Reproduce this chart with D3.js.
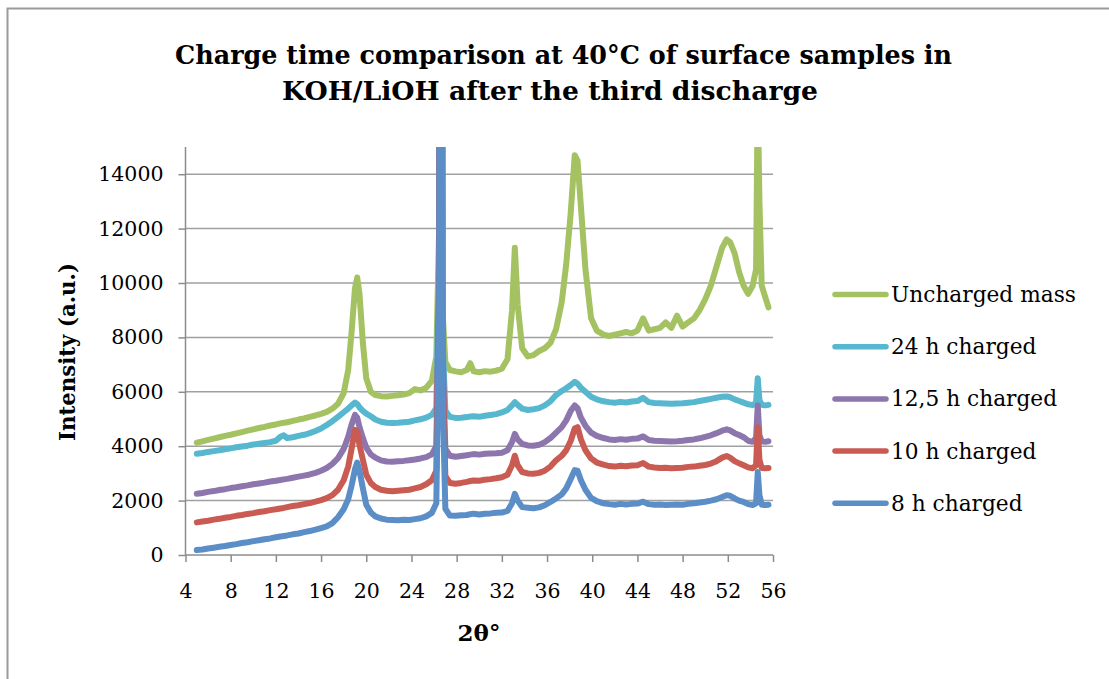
<!DOCTYPE html>
<html>
<head>
<meta charset="utf-8">
<script src="https://cdn.jsdelivr.net/npm/d3@7"></script>
<style>
  html, body { margin: 0; padding: 0; background: #fff; }
  svg { display: block; }
</style>
</head>
<body>
<svg id="chart" width="1109" height="679"></svg>
<script>
// 2θ positions (degrees) shared by every diffractogram
const twoTheta = [
  5.0, 5.5, 6.0, 6.5, 7.0, 7.5, 8.0, 8.5, 9.0, 9.5,
  10.0, 10.5, 11.0, 11.5, 12.0, 12.4, 12.7, 13.0, 13.5, 14.0,
  14.5, 15.0, 15.5, 16.0, 16.5, 17.0, 17.5, 18.0, 18.4, 18.7,
  19.0, 19.2, 19.4, 19.7, 20.0, 20.4, 20.8, 21.3, 21.8, 22.3,
  22.8, 23.3, 23.8, 24.3, 24.8, 25.3, 25.8, 26.2, 26.45, 26.55,
  26.65, 26.75, 27.0, 27.4, 27.9, 28.4, 28.9, 29.2, 29.5, 30.0,
  30.5, 31.0, 31.5, 32.0, 32.5, 32.9, 33.15, 33.4, 33.8, 34.3,
  34.8, 35.3, 35.8, 36.3, 36.8, 37.3, 37.7, 38.1, 38.45, 38.7,
  39.0, 39.4, 39.9, 40.4, 41.0, 41.5, 42.0, 42.5, 43.0, 43.5,
  44.0, 44.5, 45.0, 45.5, 46.0, 46.5, 47.0, 47.5, 48.0, 48.5,
  49.0, 49.5, 50.0, 50.5, 51.0, 51.5, 51.9, 52.2, 52.6, 53.0,
  53.4, 53.8, 54.2, 54.5, 54.65, 54.8, 55.0, 55.3, 55.6
];

// Intensity (a.u.) of each sample at the positions above
const unchargedMass = [
  4130, 4180, 4230, 4280, 4330, 4380, 4420, 4470, 4520, 4570,
  4620, 4670, 4710, 4760, 4800, 4840, 4860, 4880, 4930, 4980,
  5020, 5080, 5130, 5190, 5260, 5380, 5560, 5950, 6800, 8200,
  9800, 10200, 9600, 7800, 6500, 6000, 5880, 5840, 5830, 5850,
  5870, 5900, 5950, 6100, 6050, 6150, 6400, 7300, 12000, 40000,
  40000, 9000, 7100, 6800, 6750, 6720, 6800, 7050, 6750, 6720,
  6760, 6740, 6780, 6850, 7200, 9000, 11300, 9200, 7600, 7300,
  7350, 7500, 7600, 7800, 8300, 9300, 10700, 12600, 14700, 14500,
  12800, 10500, 8700, 8250, 8100, 8050, 8100, 8150, 8200, 8150,
  8250, 8700, 8250, 8300, 8350, 8550, 8350, 8800, 8400, 8550,
  8700, 9000, 9400, 9900, 10600, 11300, 11600, 11500, 11100, 10400,
  9900, 9600, 9900, 10500, 17000, 13000, 9900, 9500, 9100
];
const charged24h = [
  3720, 3750, 3790, 3820, 3850, 3890, 3920, 3960, 3990, 4020,
  4060, 4090, 4120, 4150, 4200, 4350, 4400, 4300, 4330, 4380,
  4420, 4480, 4560, 4650, 4780, 4920, 5080, 5250, 5380, 5500,
  5600, 5550, 5430, 5300, 5200, 5100, 4980, 4900, 4860, 4850,
  4860, 4880, 4900, 4950, 4990, 5050, 5150, 5400, 11000, 40000,
  40000, 8000, 5300, 5080, 5040, 5050, 5070, 5090, 5100, 5080,
  5120, 5150, 5180, 5240, 5330, 5500, 5620, 5520, 5380, 5330,
  5360, 5400, 5500, 5650, 5880, 6030, 6130, 6250, 6370, 6300,
  6150, 6000, 5820, 5720, 5650, 5620, 5600, 5630, 5610, 5640,
  5660, 5780, 5620, 5590, 5580, 5570, 5560, 5570, 5580, 5600,
  5620, 5660, 5700, 5740, 5780, 5820, 5830, 5800, 5720, 5660,
  5600, 5540, 5510, 5600, 6500, 5700, 5520, 5500, 5520
];
const charged12h5 = [
  2250, 2280, 2320, 2350, 2390, 2420, 2460, 2490, 2530, 2560,
  2600, 2630, 2660, 2700, 2730, 2760, 2780, 2800, 2840, 2880,
  2920, 2960, 3020, 3100, 3200, 3350, 3560, 3900, 4350, 4800,
  5150, 5050, 4700, 4300, 3950, 3700, 3580, 3480, 3440, 3430,
  3450, 3460, 3480, 3510, 3550, 3600, 3700, 4000, 10000, 40000,
  40000, 7500, 3900, 3650, 3610, 3640, 3670, 3690, 3710, 3690,
  3720, 3730, 3740, 3760, 3850, 4150, 4450, 4250, 4080, 4030,
  4020, 4050, 4150, 4300, 4500, 4700, 4950, 5300, 5500, 5400,
  5050, 4750, 4500, 4380, 4300, 4250, 4230, 4260, 4240, 4270,
  4280, 4360, 4230, 4200, 4190, 4180, 4170, 4180, 4200, 4230,
  4250, 4290, 4340, 4400, 4480, 4570, 4620, 4580, 4480, 4410,
  4330, 4200, 4160, 4300, 5500, 4400, 4180, 4160, 4180
];
const charged10h = [
  1200, 1230, 1260, 1300, 1330, 1370, 1400, 1440, 1470, 1510,
  1540, 1580, 1610, 1650, 1680, 1710, 1730, 1760, 1800, 1830,
  1870, 1910, 1960, 2020, 2090, 2200, 2400, 2750, 3250, 3900,
  4600, 4550, 4050, 3500, 2950, 2650, 2500, 2400, 2360, 2340,
  2360, 2380, 2400, 2450, 2500, 2600, 2750, 3100, 10000, 40000,
  40000, 7000, 2900, 2650, 2620, 2650, 2690, 2720, 2740, 2730,
  2770, 2790, 2820, 2860, 2950, 3300, 3650, 3300, 3050, 3000,
  2990, 3020, 3100, 3250, 3480, 3650, 3850, 4200, 4650, 4700,
  4250, 3850, 3550, 3400, 3320, 3270, 3250, 3280, 3260, 3290,
  3300, 3380, 3250, 3220, 3200, 3210, 3190, 3200, 3210, 3240,
  3250, 3280, 3310, 3360, 3450, 3580, 3640, 3580, 3450, 3370,
  3300, 3220, 3190, 3300, 4700, 3500, 3200, 3190, 3200
];
const charged8h = [
  180, 200, 240, 270, 300, 330, 370, 400, 440, 470,
  510, 540, 580, 610, 650, 680, 700, 720, 760, 790,
  840, 880, 930, 990, 1050, 1170, 1390, 1680, 2050, 2550,
  3150, 3400, 3100, 2450, 1850, 1560, 1420, 1340, 1300, 1290,
  1280, 1300, 1290, 1320, 1350, 1420, 1550, 1900, 9000, 40000,
  40000, 6000, 1700, 1450, 1440, 1460, 1470, 1500, 1520, 1490,
  1520, 1530, 1550, 1560, 1620, 1900, 2250, 2000, 1760, 1740,
  1720, 1750, 1830, 1950, 2080, 2230, 2450, 2800, 3120, 3100,
  2750, 2400, 2100, 1980, 1900, 1870, 1850, 1880, 1860, 1880,
  1890, 1960, 1870, 1850, 1860, 1840, 1850, 1860, 1850, 1880,
  1900, 1930, 1960, 2000, 2050, 2130, 2200, 2180, 2080, 2000,
  1950, 1870, 1840, 1900, 3050, 2200, 1850, 1840, 1850
];

const seriesNames = ["Uncharged mass", "24 h charged", "12,5 h charged", "10 h charged", "8 h charged"];
const seriesValues = [unchargedMass, charged24h, charged12h5, charged10h, charged8h];
const seriesColors = ["#a5c263", "#57b7cf", "#8d76ad", "#c95b52", "#5b8dc7"];

const xTicks = [4, 8, 12, 16, 20, 24, 28, 32, 36, 40, 44, 48, 52, 56];
const yTicks = [0, 2000, 4000, 6000, 8000, 10000, 12000, 14000];

const titleLines = ["Charge time comparison at 40°C of surface samples in", "KOH/LiOH after the third discharge"];
const xTitle = "2θ°";
const yTitle = "Intensity (a.u.)";

// ---- layout ----
const svg = d3.select("#chart");
const plot = { left: 185.5, right: 773, top: 147, bottom: 555 };
const serif = "'DejaVu Serif', 'Liberation Serif', serif";
const axisGrey = "#8c8c8c";

const x = d3.scaleLinear().domain([4, 56]).range([plot.left, plot.right]);
const y = d3.scaleLinear().domain([0, 15000]).range([plot.bottom, plot.top]);

// outer chart frame
svg.append("path")
  .attr("d", "M7.5,679 L7.5,8.5 L1109,8.5")
  .attr("fill", "none").attr("stroke", "#9a9a9a").attr("stroke-width", 2);

// scale font-size so a text node spans a given width
function fitWidth(node, target) {
  const w = node.getComputedTextLength();
  const fs = parseFloat(node.getAttribute("font-size"));
  return fs * target / w;
}

// title: two centred lines, slightly condensed
const titleSpec = [
  { text: titleLines[0], cx: 563.5, y: 64, width: 777 },
  { text: titleLines[1], cx: 550, y: 100, width: 536 }
];
svg.append("g").selectAll("text")
  .data(titleSpec)
  .join("text")
  .text(d => d.text)
  .attr("x", d => d.cx - d.width / 2).attr("y", d => d.y)
  .attr("textLength", d => d.width).attr("lengthAdjust", "spacingAndGlyphs")
  .attr("font-family", serif).attr("font-weight", "bold").attr("font-size", 25.5).attr("fill", "#000");

// horizontal gridlines
svg.append("g").selectAll("line")
  .data(yTicks.filter(d => d > 0))
  .join("line")
  .attr("x1", plot.left).attr("x2", plot.right)
  .attr("y1", d => y(d)).attr("y2", d => y(d))
  .attr("stroke", "#a0a0a0").attr("stroke-width", 1.5);

// axes
const yAxis = svg.append("g")
  .attr("transform", `translate(${plot.left},0)`)
  .call(d3.axisLeft(y).tickValues(yTicks).tickSize(7).tickSizeOuter(0).tickPadding(15)
    .tickFormat(d3.format("d")));
const xAxis = svg.append("g")
  .attr("transform", `translate(0,${plot.bottom})`)
  .call(d3.axisBottom(x).tickValues(xTicks).tickSize(7).tickSizeOuter(0).tickPadding(21)
    .tickFormat(d3.format("d")));
[yAxis, xAxis].forEach(g => {
  g.select(".domain").attr("stroke", axisGrey).attr("stroke-width", 1.5);
  g.selectAll(".tick line").attr("stroke", axisGrey).attr("stroke-width", 1.5);
  g.selectAll(".tick text").attr("font-family", serif).attr("font-size", 20.5).attr("fill", "#000");
});
yAxis.select(".domain").attr("d", `M0,${plot.bottom}V${plot.top}`);
xAxis.select(".domain").attr("d", `M${plot.left},0H${plot.right}`);

// axis titles
svg.append("text").text(yTitle)
  .attr("transform", "translate(67,352) rotate(-90)")
  .attr("text-anchor", "middle").attr("dominant-baseline", "central")
  .attr("textLength", 178).attr("lengthAdjust", "spacingAndGlyphs")
  .attr("font-family", serif).attr("font-weight", "bold").attr("font-size", 22).attr("fill", "#000");
svg.append("text").text(xTitle)
  .attr("x", 479).attr("y", 641)
  .attr("text-anchor", "middle")
  .attr("font-family", serif).attr("font-weight", "bold").attr("font-size", 23).attr("fill", "#000");

// diffractograms, clipped to the plot area
svg.append("clipPath").attr("id", "plotClip")
  .append("rect").attr("x", plot.left).attr("y", plot.top)
  .attr("width", plot.right - plot.left + 10).attr("height", plot.bottom - plot.top + 10);

const line = d3.line()
  .x((d, i) => x(twoTheta[i]))
  .y(d => y(d));

svg.append("g").attr("clip-path", "url(#plotClip)")
  .selectAll("path")
  .data(seriesValues)
  .join("path")
  .attr("d", d => line(d))
  .attr("fill", "none")
  .attr("stroke", (d, i) => seriesColors[i])
  .attr("stroke-width", 6)
  .attr("stroke-linejoin", "round")
  .attr("stroke-linecap", "round");

// legend
const legend = svg.append("g");
const legendRows = legend.selectAll("g")
  .data(seriesNames)
  .join("g")
  .attr("transform", (d, i) => `translate(833,${294.5 + i * 52.2})`);
legendRows.append("line")
  .attr("x1", 2).attr("x2", 53).attr("y1", 0).attr("y2", 0)
  .attr("stroke", (d, i) => seriesColors[i])
  .attr("stroke-width", 5.5).attr("stroke-linecap", "round");
const legendText = legendRows.append("text")
  .text(d => d)
  .attr("x", 58).attr("y", 0)
  .attr("dominant-baseline", "central")
  .attr("font-family", serif).attr("font-size", 21).attr("fill", "#000");
const legendSize = fitWidth(legendText.nodes()[0], 185);
legendText.attr("font-size", legendSize);
</script>
</body>
</html>
